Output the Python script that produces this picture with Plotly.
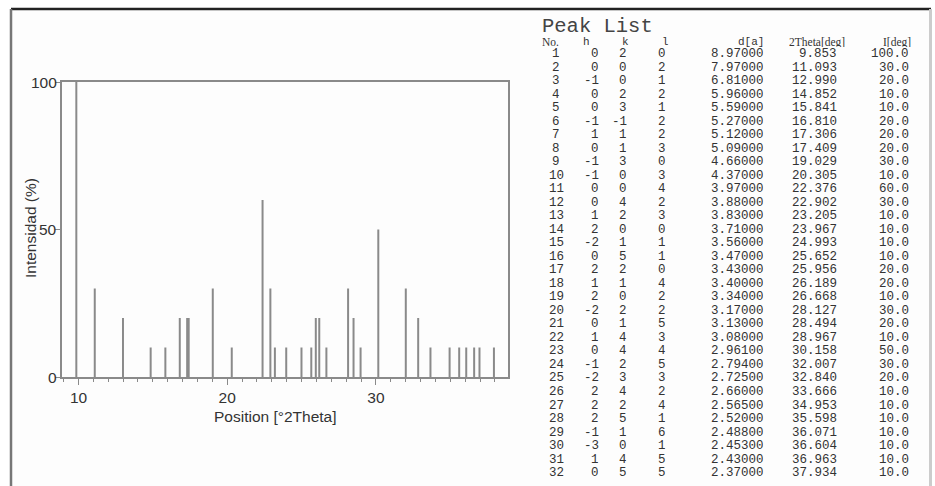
import plotly.graph_objects as go

# Peak list: Miller indices, d-spacing, position and relative intensity
peak_no = list(range(1, 33))
h_idx = [0, 0, -1, 0, 0, -1, 1, 0, -1, -1, 0, 0, 1, 2, -2, 0,
         2, 1, 2, -2, 0, 1, 0, -1, -2, 2, 2, 2, -1, -3, 1, 0]
k_idx = [2, 0, 0, 2, 3, -1, 1, 1, 3, 0, 0, 4, 2, 0, 1, 5,
         2, 1, 0, 2, 1, 4, 4, 2, 3, 4, 2, 5, 1, 0, 4, 5]
l_idx = [0, 2, 1, 2, 1, 2, 2, 3, 0, 3, 4, 2, 3, 0, 1, 1,
         0, 4, 2, 2, 5, 3, 4, 5, 3, 2, 4, 1, 6, 1, 5, 5]
d_spacing = [8.97, 7.97, 6.81, 5.96, 5.59, 5.27, 5.12, 5.09, 4.66, 4.37,
             3.97, 3.88, 3.83, 3.71, 3.56, 3.47, 3.43, 3.40, 3.34, 3.17,
             3.13, 3.08, 2.961, 2.794, 2.725, 2.66, 2.565, 2.52, 2.488,
             2.453, 2.43, 2.37]
two_theta = [9.853, 11.093, 12.990, 14.852, 15.841, 16.810, 17.306, 17.409,
             19.029, 20.305, 22.376, 22.902, 23.205, 23.967, 24.993, 25.652,
             25.956, 26.189, 26.668, 28.127, 28.494, 28.967, 30.158, 32.007,
             32.840, 33.666, 34.953, 35.598, 36.071, 36.604, 36.963, 37.934]
intensity = [100.0, 30.0, 20.0, 10.0, 10.0, 20.0, 20.0, 20.0, 30.0, 10.0,
             60.0, 30.0, 10.0, 10.0, 10.0, 10.0, 20.0, 20.0, 10.0, 30.0,
             20.0, 10.0, 50.0, 30.0, 20.0, 10.0, 10.0, 10.0, 10.0, 10.0,
             10.0, 10.0]

x_ticks = [10, 20, 30]
y_ticks = [0, 50, 100]

W, H = 935, 486
GREY = "#8a8a8a"
TXT = "#333333"
SANS = "Liberation Sans, Arial"

# stick pattern: one vertical segment per reflection
sx, sy = [], []
for t, i in zip(two_theta, intensity):
    sx += [t, t, None]
    sy += [0, i, None]

fig = go.Figure()
fig.add_trace(go.Scatter(x=sx, y=sy, mode="lines",
                         line=dict(color=GREY, width=2),
                         hoverinfo="skip", showlegend=False))

px_l, px_r, px_t, px_b = 62, 508, 82, 377

fig.update_layout(
    width=W, height=H, autosize=False,
    margin=dict(l=0, r=0, t=0, b=0, pad=0),
    paper_bgcolor="white", plot_bgcolor="rgba(0,0,0,0)",
    showlegend=False,
    font=dict(family=SANS, color=TXT),
    xaxis=dict(
        domain=[px_l / W, px_r / W], range=[8.89, 38.88], automargin=False,
        tickvals=x_ticks, ticktext=[str(v) for v in x_ticks],
        ticks="outside", ticklen=6, tickwidth=1.2, tickcolor=GREY,
        minor=dict(dtick=1, ticks="outside", ticklen=3, tickwidth=1, tickcolor=GREY),
        showline=True, linecolor=GREY, linewidth=1.6, mirror=True,
        showgrid=False, zeroline=False,
        tickfont=dict(size=15.5, color=TXT),
    ),
    yaxis=dict(
        domain=[1 - px_b / H, 1 - px_t / H], range=[0, 100], automargin=False,
        tickvals=y_ticks, showticklabels=False,
        ticks="outside", ticklen=5, tickwidth=1.2, tickcolor=GREY,
        showline=True, linecolor=GREY, linewidth=1.6, mirror=True,
        showgrid=False, zeroline=False,
    ),
)

# y tick labels set tight against the tick marks
for v in y_ticks:
    fig.add_annotation(text=str(v), xref="paper", yref="y", x=57.5 / W, y=v,
                       xanchor="right", yanchor="middle", showarrow=False,
                       borderpad=0, font=dict(family=SANS, size=15.5, color=TXT))

# axis titles
fig.add_annotation(text="Position [°2Theta]", xref="paper", yref="paper",
                   x=275 / W, y=1 - 416 / H, xanchor="center", yanchor="middle",
                   showarrow=False, font=dict(family=SANS, size=15.5, color=TXT))
fig.add_annotation(text="Intensidad (%)", xref="paper", yref="paper",
                   x=30 / W, y=1 - 228 / H, xanchor="center", yanchor="middle",
                   textangle=-90, showarrow=False,
                   font=dict(family=SANS, size=15.5, color=TXT))

# outer frame of the report panel
fig.add_shape(type="rect", xref="paper", yref="paper", x0=11 / W, x1=930 / W,
              y0=-0.01, y1=1 - 9 / H, fillcolor="#fdfdfd",
              line=dict(width=0), layer="below")
fig.add_shape(type="line", xref="paper", yref="paper", x0=11 / W, x1=931 / W,
              y0=1 - 9 / H, y1=1 - 9 / H, line=dict(color="#222222", width=2.5))
fig.add_shape(type="line", xref="paper", yref="paper", x0=11 / W, x1=11 / W,
              y0=0, y1=1 - 9 / H, line=dict(color="#777777", width=2.5))
fig.add_shape(type="line", xref="paper", yref="paper", x0=930.5 / W, x1=930.5 / W,
              y0=0, y1=1 - 9 / H, line=dict(color="#cccccc", width=3))

# peak table
MONO = "Liberation Mono, DejaVu Sans Mono, monospace"
SERIF = "Liberation Serif, DejaVu Serif, serif"
ROW0, PITCH = 53.5, 13.52


def row_y(r):
    return 1 - (ROW0 + (r - 1) * PITCH) / H


def put(text, xpx, ypaper, anchor="right", size=12.5, family=MONO, color=TXT, box=13):
    fig.add_annotation(text=text, xref="paper", yref="paper", x=xpx / W, y=ypaper,
                       xanchor=anchor, yanchor="middle", showarrow=False,
                       borderpad=0, height=box, valign="middle",
                       font=dict(family=family, size=size, color=color))


put("Peak List", 541, 1 - 26.5 / H, anchor="left", size=20.5, color="#444444", box=20)

hdr_y = 1 - 42 / H
put("No.", 541, hdr_y, anchor="left", size=11.5, family=SERIF, box=10)
put("h", 586, hdr_y, anchor="center", size=11, box=10)
put("k", 625, hdr_y, anchor="center", size=11, box=10)
put("l", 665, hdr_y, anchor="center", size=11, box=10)
put("d[a]", 765, hdr_y, size=11, box=10)
put("2Theta[deg]", 846, hdr_y, size=11.5, family=SERIF, box=10)
put("I[deg]", 912, hdr_y, size=11.5, family=SERIF, box=10)

for n, h, k, l, d, t, i in zip(peak_no, h_idx, k_idx, l_idx, d_spacing, two_theta, intensity):
    y = row_y(n)
    put(str(n), 556, y, anchor="center")
    put(str(h), 600, y)
    put(str(k), 628, y)
    put(str(l), 667, y)
    put(f"{d:.5f}", 765, y)
    put(f"{t:.3f}", 838, y)
    put(f"{i:.1f}", 910, y)

fig.write_html("out.html")
